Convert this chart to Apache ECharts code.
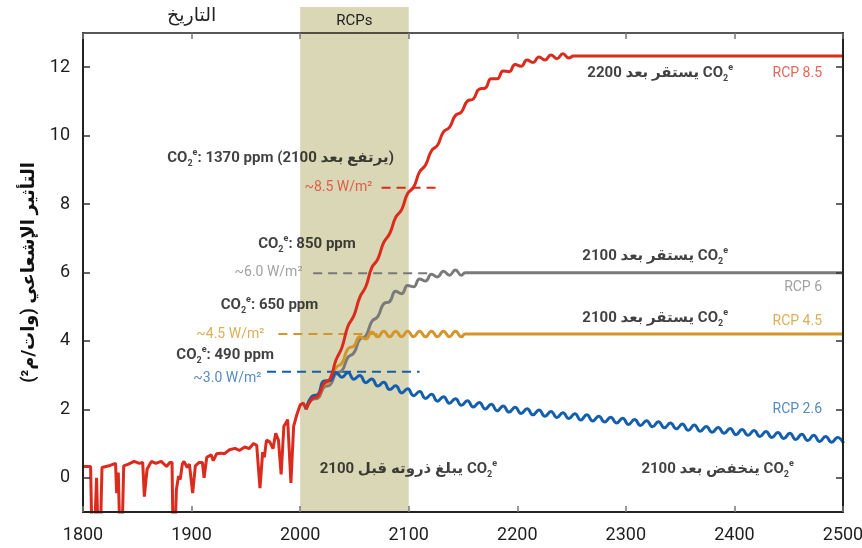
<!DOCTYPE html>
<html><head><meta charset="utf-8">
<script src="https://cdn.jsdelivr.net/npm/echarts@6/dist/echarts.min.js"></script>
<style>html,body{margin:0;padding:0;background:#fff}#c{width:862px;height:548px}</style>
</head><body><div id="c"></div>
<script>
// ---------- data ----------
const histYears = [1800,1807,1809,1812.5,1815,1817.5,1825,1830,1831,1832.5,1835,1837.5,1842,1847,1852,1855,1856.5,1859,1863,1867,1872,1877,1880,1882,1883.5,1886,1888,1889.5,1891.5,1893,1896,1898,1901,1903.5,1907,1910,1911.5,1914,1918,1920,1923,1927,1930,1935,1940,1944,1949,1953,1957,1960,1963,1965.5,1967,1969,1972,1975,1977.5,1980,1982.5,1985,1988.5,1991.5,1994,1997,2000,2003,2005.5];
const histValues = [0.33,0.33,-3,0.0,-3,0.3,0.36,0.42,-0.45,0.15,-3,0.35,0.4,0.48,0.42,0.45,-0.55,0.25,0.48,0.42,0.48,0.33,0.45,0.45,-3,-0.35,0.05,-0.05,0.4,0.48,0.3,0.4,-0.45,0.35,0.45,0.45,0.0,0.6,0.67,0.5,0.7,0.72,0.7,0.82,0.86,0.8,0.9,0.85,1.0,0.95,-0.3,0.75,0.6,1.1,1.05,0.85,1.3,1.1,0.1,1.5,1.7,-0.15,1.5,1.85,2.13,2.18,2.0];

const rcpYears = [2005.5,2011,2016.5,2022,2027.5,2033,2038.5,2044,2049.5,2055,
  2060.5,2066,2071.5,2077,2082.5,2088,2093.5,2099,2104.5,2110,
  2115.5,2121,2126.5,2132,2137.5,2143,2148.5,2154,2159.5,2165,
  2170.5,2176,2181.5,2187,2192.5,2198,2203.5,2209,2214.5,2220,
  2225.5,2231,2236.5,2242,2247.5,2253,2258.5,2264,2269.5,2275,
  2280.5,2286,2291.5,2297,2302.5,2308,2313.5,2319,2324.5,2330,
  2335.5,2341,2346.5,2352,2357.5,2363,2368.5,2374,2379.5,2385,
  2390.5,2396,2401.5,2407,2412.5,2418,2423.5,2429,2434.5,2440,
  2445.5,2451,2456.5,2462,2467.5,2473,2478.5,2484,2489.5,2495,
  2500.5];

const rcp85 = [2.0,2.31,2.39,2.76,2.89,3.44,3.81,4.43,4.74,5.28,
  5.59,6.14,6.39,6.88,7.14,7.61,7.84,8.31,8.49,8.94,
  9.14,9.56,9.72,10.11,10.24,10.59,10.69,11.01,11.07,11.36,
  11.39,11.66,11.66,11.89,11.87,12.08,12.03,12.21,12.14,12.30,
  12.21,12.36,12.25,12.39,12.27];
const rcp85TailYears = [2252, 2500];
const rcp85Tail = [12.33, 12.33];

const rcp60 = [2.0,2.29,2.33,2.65,2.71,3.05,3.13,3.52,3.65,4.05,
  4.15,4.57,4.71,5.09,5.15,5.45,5.38,5.62,5.58,5.81,
  5.75,5.95,5.87,6.04,5.92,6.07,5.92];
const rcp60TailYears = [2152, 2500];
const rcp60Tail = [5.99, 5.99];

const rcp45 = [2.0,2.32,2.38,2.72,2.81,3.22,3.35,3.77,3.85,4.12,
  4.06,4.26,4.12,4.28,4.12,4.28,4.12,4.28,4.12,4.28,
  4.12,4.28,4.12,4.28,4.12,4.28,4.12];
const rcp45TailYears = [2152, 2500];
const rcp45Tail = [4.2, 4.2];

const rcp26 = [2.0,2.38,2.44,2.83,2.84,3.08,2.94,3.08,2.88,2.99,
  2.78,2.89,2.68,2.79,2.58,2.69,2.48,2.60,2.40,2.52,
  2.32,2.44,2.24,2.37,2.18,2.31,2.12,2.25,2.07,2.20,
  2.01,2.15,1.96,2.10,1.92,2.06,1.88,2.02,1.84,1.98,
  1.80,1.94,1.76,1.90,1.73,1.87,1.69,1.84,1.66,1.80,
  1.63,1.77,1.60,1.74,1.56,1.70,1.53,1.67,1.49,1.64,
  1.46,1.60,1.43,1.57,1.39,1.54,1.36,1.50,1.33,1.47,
  1.30,1.44,1.26,1.41,1.24,1.38,1.21,1.35,1.18,1.32,
  1.15,1.30,1.12,1.27,1.09,1.24,1.06,1.21,1.04,1.18,
  1.01];

// target forcing levels (dashed markers): [startYear, endYear, value]
const dash85 = [2075, 2126, 8.48];
const dash60 = [2012, 2121, 5.98];
const dash45 = [1980, 2072, 4.2];
const dash26 = [1969.5, 2110, 3.1];

const yTicks = [0, 2, 4, 6, 8, 10, 12];

// ---------- styling ----------
const C_RED = '#dc2a1c', C_GRAY = '#7a7a7a', C_ORANGE = '#d4962a', C_BLUE = '#135fad';
const L_RED = '#e0402f', L_GRAY = '#8a8a8a', L_ORANGE = '#d49a30', L_BLUE = '#2a6db5';
const SHADE = '#d9d7b5';
const FONT = 'Roboto, "DejaVu Sans", sans-serif';

const pairs = (xs, ys) => ys.map((v, i) => [xs[i], v]);
const co2 = '{b|CO}{s|2}{e|e}';

// annotation texts and their anchor points (in data units)
const notes = [
  {x: 1982, y: 9.35, align: 'center', text: co2 + '{b|: 1370 ppm (}{b|يرتفع بعد 2100}{b|)}'},
  {x: 2006.3, y: 6.83, align: 'center', text: co2 + '{b|: 850 ppm}'},
  {x: 1971.8, y: 5.05, align: 'center', text: co2 + '{b|: 650 ppm}'},
  {x: 1930.9, y: 3.59, align: 'center', text: co2 + '{b|: 490 ppm}'},
  {x: 2066.6, y: 8.47, align: 'right', color: L_RED, text: '{w|~8.5 W/m²}'},
  {x: 2002.2, y: 6.0, align: 'right', color: L_GRAY, text: '{w|~6.0 W/m²}'},
  {x: 1967, y: 4.2, align: 'right', color: L_ORANGE, text: '{w|~4.5 W/m²}'},
  {x: 1964.3, y: 2.89, align: 'right', color: L_BLUE, text: '{w|~3.0 W/m²}'},
  {x: 2331.6, y: 11.82, align: 'center', text: '{b|يستقر بعد 2200}{b| CO}{s|2}{e|e}'},
  {x: 2327, y: 6.48, align: 'center', text: '{b|يستقر بعد 2100}{b| CO}{s|2}{e|e}'},
  {x: 2327, y: 4.67, align: 'center', text: '{b|يستقر بعد 2100}{b| CO}{s|2}{e|e}'},
  {x: 2099.7, y: 0.26, align: 'center', text: '{b|يبلغ ذروته قبل 2100}{b| CO}{s|2}{e|e}'},
  {x: 2384.5, y: 0.26, align: 'center', text: '{b|ينخفض بعد 2100}{b| CO}{s|2}{e|e}'},
  {x: 2480.7, y: 11.82, align: 'right', color: L_RED, text: '{w|RCP 8.5}'},
  {x: 2480.7, y: 5.55, align: 'right', color: L_GRAY, text: '{w|RCP 6}'},
  {x: 2480.7, y: 4.58, align: 'right', color: L_ORANGE, text: '{w|RCP 4.5}'},
  {x: 2480.7, y: 1.99, align: 'right', color: L_BLUE, text: '{w|RCP 2.6}'}
];

function rich(color) {
  const c = color || '#111111';
  return {
    b: {fontFamily: FONT, fontWeight: 'bold', fontSize: 15, color: c, lineHeight: 20},
    s: {fontFamily: FONT, fontWeight: 'bold', fontSize: 9, color: c, lineHeight: 9, verticalAlign: 'bottom'},
    e: {fontFamily: FONT, fontWeight: 'bold', fontSize: 9, color: c, lineHeight: 16, verticalAlign: 'top'},
    w: {fontFamily: FONT, fontSize: 14, color: c, lineHeight: 18}
  };
}

const chart = echarts.init(document.getElementById('c'), null, {renderer: 'canvas'});

function lineSeries(data, color, smooth, z) {
  return {type: 'line', data, smooth, symbol: 'none', z: z || 3,
    lineStyle: {color, width: 3}, itemStyle: {color}, silent: true};
}
function dashSeries(d, color) {
  return {type: 'line', data: [[d[0], d[2]], [d[1], d[2]]], symbol: 'none', z: 2, silent: true,
    lineStyle: {color, width: 2, type: [9, 6]}};
}

const axisTextColor = '#1e1e1e';
chart.setOption({
  animation: false,
  backgroundColor: '#fff',
  grid: {left: 83, right: 19, top: 33, bottom: 36, containLabel: false, outerBoundsMode: 'none'},
  xAxis: [
    {type: 'value', min: 1800, max: 2500, interval: 100, position: 'bottom', z: 5,
      axisLine: {show: true, onZero: false, lineStyle: {color: '#222', width: 2}},
      axisTick: {show: true, inside: true, length: 6, lineStyle: {color: '#777', width: 1.5}},
      axisLabel: {color: axisTextColor, fontSize: 18, fontFamily: FONT, margin: 14,
        formatter: v => String(v)},
      splitLine: {show: false}},
    {type: 'value', min: 1800, max: 2500, interval: 100, position: 'top', z: 5,
      axisLine: {show: true, onZero: false, lineStyle: {color: '#222', width: 1.5}},
      axisTick: {show: true, inside: true, length: 6, lineStyle: {color: '#777', width: 1.5}},
      axisLabel: {show: false}, splitLine: {show: false}}
  ],
  yAxis: [
    {type: 'value', min: -1, max: 13, position: 'left', z: 5,
      name: 'التأثير الإشعاعي (وات/م²)', nameLocation: 'middle', nameGap: 45, nameRotate: 90,
      nameTextStyle: {fontSize: 18, fontWeight: 'bold', color: '#111', fontFamily: FONT},
      axisLine: {show: true, onZero: false, lineStyle: {color: '#222', width: 2}},
      axisTick: {show: true, inside: true, length: 7, customValues: yTicks, lineStyle: {color: '#333', width: 1.5}},
      axisLabel: {customValues: yTicks, color: axisTextColor, fontSize: 18, fontFamily: FONT, margin: 13},
      splitLine: {show: false}},
    {type: 'value', min: -1, max: 13, position: 'right', z: 5,
      axisLine: {show: true, onZero: false, lineStyle: {color: '#222', width: 2}},
      axisTick: {show: true, inside: true, length: 7, customValues: yTicks, lineStyle: {color: '#333', width: 1.5}},
      axisLabel: {show: false}, splitLine: {show: false}}
  ],
  series: [
    dashSeries(dash85, C_RED),
    dashSeries(dash60, C_GRAY),
    dashSeries(dash45, C_ORANGE),
    dashSeries(dash26, C_BLUE),
    lineSeries(pairs(histYears, histValues), C_RED, false, 3),
    lineSeries(pairs(rcpYears, rcp60).concat(pairs(rcp60TailYears, rcp60Tail)), C_GRAY, 0.5, 3),
    lineSeries(pairs(rcpYears, rcp45).concat(pairs(rcp45TailYears, rcp45Tail)), C_ORANGE, 0.5, 3),
    lineSeries(pairs(rcpYears, rcp26), C_BLUE, 0.5, 3),
    lineSeries(pairs(rcpYears, rcp85).concat(pairs(rcp85TailYears, rcp85Tail)), C_RED, 0.5, 4),
    {type: 'scatter', z: 10, silent: true, symbolSize: 0.1, itemStyle: {color: 'transparent'},
      data: notes.map(n => ({
        value: [n.x, n.y],
        label: {show: true, position: 'inside', align: n.align, verticalAlign: 'middle',
          formatter: n.text, rich: rich(n.color)}
      }))}
  ]
});

// shaded RCP period and header texts (positioned from the axes)
const x2000 = chart.convertToPixel({xAxisIndex: 0}, 2000);
const x2100 = chart.convertToPixel({xAxisIndex: 0}, 2100);
const x1900 = chart.convertToPixel({xAxisIndex: 0}, 1900);
const yBot = chart.convertToPixel({yAxisIndex: 0}, -1);
chart.setOption({
  graphic: [
    {type: 'rect', z: 0, silent: true, shape: {x: x2000, y: 7, width: x2100 - x2000, height: yBot - 7},
      style: {fill: SHADE}},
    {type: 'text', z: 6, silent: true, x: (x2000 + x2100) / 2, y: 21,
      style: {text: 'RCPs', fill: '#222', font: '15px ' + FONT, align: 'center', verticalAlign: 'middle'}},
    {type: 'text', z: 6, silent: true, x: x1900, y: 16,
      style: {text: 'التاريخ', fill: '#222', font: '19px ' + FONT, align: 'center', verticalAlign: 'middle'}}
  ]
});
</script>
</body></html>
